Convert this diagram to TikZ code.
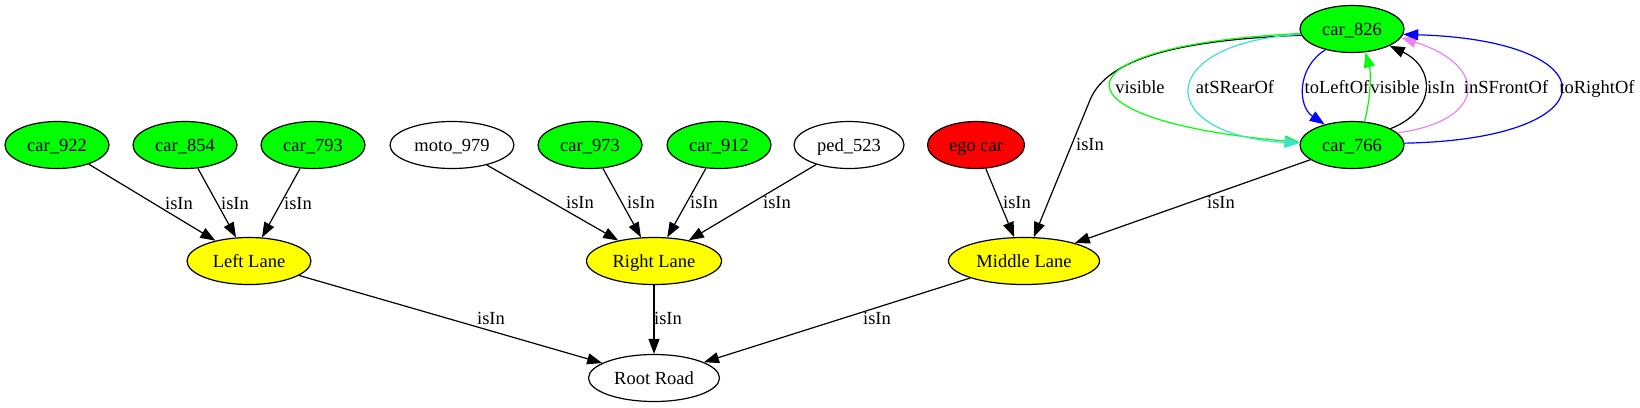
\documentclass[tikz,border=0pt]{standalone}
\usepackage{fontspec}
\setmainfont{Liberation Serif}
\usetikzlibrary{shapes.geometric,arrows.meta}
\definecolor{gvgreen}{RGB}{0,255,0}
\definecolor{gvred}{RGB}{255,0,0}
\definecolor{gvyellow}{RGB}{255,255,0}
\definecolor{gvturq}{RGB}{64,224,208}
\definecolor{gvviolet}{RGB}{238,130,238}
\definecolor{gvblue}{RGB}{0,0,255}
\tikzset{
  txt/.style={font=\fontsize{18.5}{22}\selectfont, text height=12.2pt, text depth=0pt},
  obj/.style={txt, ellipse, draw, line width=1.2pt, minimum height=47pt, inner sep=0pt},
  car/.style={obj, fill=gvgreen, minimum width=104pt},
  lane/.style={obj, fill=gvyellow},
  rel/.style={line width=1.2pt, -{Triangle[length=15pt,width=11pt]}},
  lbl/.style={txt, text=black, inner sep=0pt},
}
\begin{document}
\begin{tikzpicture}[x=1pt,y=-1pt]
  \useasboundingbox (0,0) rectangle (1640,407);
  %oggetti
  \node[car] (c922) at (57,145) {car\_922};
  \node[car] (c854) at (185,145) {car\_854};
  \node[car] (c793) at (313,145) {car\_793};
  \node[obj, minimum width=124pt] (moto) at (452,145) {moto\_979};
  \node[car] (c973) at (590,145) {car\_973};
  \node[car] (c912) at (719,145) {car\_912};
  \node[obj, minimum width=110pt] (ped) at (849,145) {ped\_523};
  \node[obj, fill=gvred, minimum width=97pt] (ego) at (976,145) {ego car};
  \node[car] (c766) at (1352,145) {car\_766};
  \node[car] (c826) at (1352,29) {car\_826};
  %corsie
  \node[lane, minimum width=124pt] (leftlane) at (249,261) {Left Lane};
  \node[lane, minimum width=135pt] (rightlane) at (654,261) {Right Lane};
  \node[lane, minimum width=151pt] (midlane) at (1024,261) {Middle Lane};
  \node[obj, minimum width=131pt] (root) at (654,378) {Root Road};
  %isIn
  \foreach \a/\b/\lx/\ly in {c922/leftlane/179/203, c854/leftlane/235/203, c793/leftlane/298/203,
      moto/rightlane/580/202, c973/rightlane/641/202, c912/rightlane/704/202, ped/rightlane/777/202,
      ego/midlane/1017/202, c766/midlane/1221/202,
      leftlane/root/491/318, rightlane/root/668/318, midlane/root/877/318}
    \draw[rel] (\a) -- (\b) node[lbl] (l-\a-\b) at (\lx,\ly) {isIn};
  \draw[rel] (c826.187) .. controls (1180,40) and (1107,58) .. (1090,100) -- (midlane)
    node[lbl] (l-c826-midlane) at (1090,144) {isIn};
  %relazioni tra car_826 e car_766
  \draw[rel, gvgreen] (c826.185) .. controls +(-252,12) and +(-252,-22) .. (c766.177)
    node[lbl] (l-vis1) at (1140,87) {visible};
  \draw[rel, gvturq] (c826.186) .. controls +(-147,8) and +(-147,-8) .. (c766.178)
    node[lbl] (l-rear) at (1235,87) {atSRearOf};
  \draw[rel, gvblue] (c826.218) .. controls +(-29,18) and +(-27,-18) .. (c766.143)
    node[lbl] (l-left) at (1337,87) {toLeftOf};
  \draw[rel, gvgreen] (c766.62) .. controls +(6,-22) and +(6,22) .. (c826.300)
    node[lbl] (l-vis2) at (1395,87) {visible};
  \draw[rel] (c766.23) .. controls +(46,-18) and +(46,22) .. (c826.336)
    node[lbl] (l-isin) at (1441,87) {isIn};
  \draw[rel, gvviolet] (c766.15) .. controls +(90,-12) and +(88,28) .. (c826.350)
    node[lbl] (l-front) at (1506,87) {inSFrontOf};
  \draw[rel, gvblue] (c766.2) .. controls +(209,-4) and +(209,6) .. (c826.354)
    node[lbl] (l-right) at (1597,87) {toRightOf};
\end{tikzpicture}
\end{document}
